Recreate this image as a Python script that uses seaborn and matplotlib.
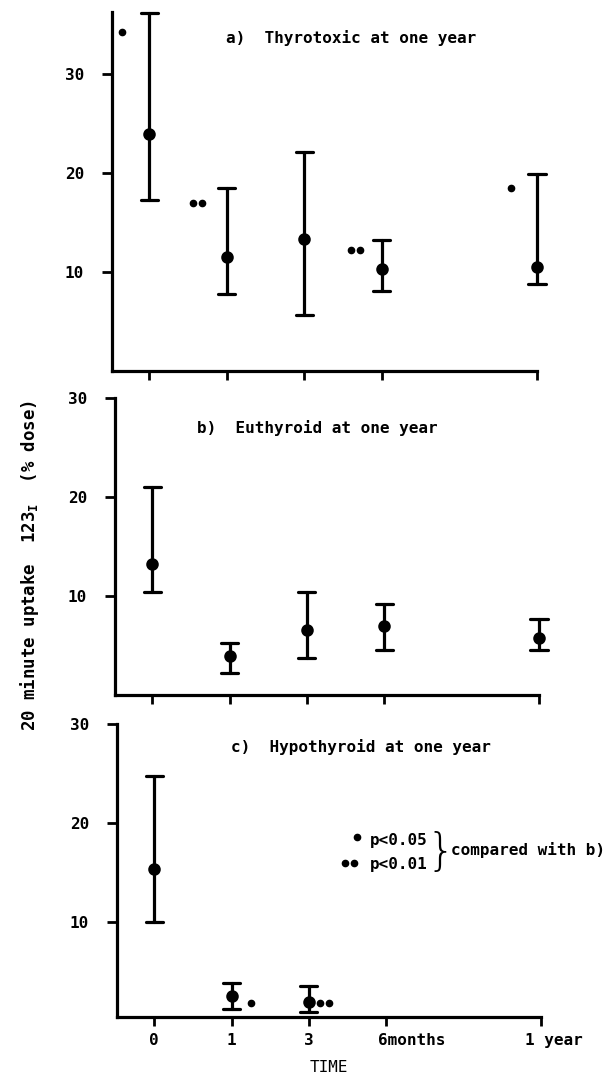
import matplotlib.pyplot as plt
import matplotlib.transforms as mtransforms
import pandas as pd
import seaborn as sns

# time axis: 0, 1, 3 months, 6 months, 1 year (1 year sits further out)
times = [0, 1, 2, 3, 5]
time_labels = ["0", "1", "3", "6months", "1 year"]

thyro_mean = [24.0, 11.5, 13.3, 10.3, 10.5]
thyro_low = [17.3, 7.8, 5.7, 8.1, 8.8]
thyro_high = [36.2, 18.5, 22.1, 13.2, 19.9]

euthy_mean = [13.2, 3.9, 6.6, 7.0, 5.8]
euthy_low = [10.4, 2.2, 3.7, 4.5, 4.5]
euthy_high = [21.0, 5.3, 10.4, 9.2, 7.7]

hypo_times = [0, 1, 2]
hypo_mean = [15.4, 2.5, 1.9]
hypo_low = [10.0, 1.2, 0.9]
hypo_high = [24.7, 3.8, 3.5]

# significance dots vs b): one dot p<0.05, two dots p<0.01
thyro_sig_x = [-0.35, 0.56, 0.68, 2.60, 2.72, 4.66]
thyro_sig_y = [34.3, 17.0, 17.0, 12.2, 12.2, 18.5]
hypo_sig_x = [1.25, 2.14, 2.26]
hypo_sig_y = [1.8, 1.8, 1.8]


def long_frame(x, low, mean, high):
    rows = []
    for t, lo, m, hi in zip(x, low, mean, high):
        for v in (lo, m, hi):
            rows.append({"time": t, "uptake": v})
    return pd.DataFrame(rows)


def px_axes(fig, left, right, top, bottom):
    W, H = 608, 1080
    return fig.add_axes([left / W, 1 - bottom / H, (right - left) / W, (bottom - top) / H])


def draw_panel(ax, df, title, title_pos, ylim, sig_x, sig_y):
    sns.pointplot(
        data=df, x="time", y="uptake", estimator="median", errorbar=("pi", 100),
        native_scale=True, color="black", marker="o", markersize=7,
        linestyle="none", capsize=0.22, err_kws={"linewidth": 2.3}, ax=ax,
    )
    if sig_x:
        ax.plot(sig_x, sig_y, "o", color="black", markersize=4.5, linestyle="none")
    for art in ax.lines + ax.collections:
        art.set_clip_on(False)
    ax.set_xlim(-0.48, 5.0)
    ax.set_ylim(*ylim)
    ax.set_xticks(times)
    ax.set_yticks([10, 20, 30])
    ax.set_xlabel("")
    ax.set_ylabel("")
    ax.text(title_pos[0], title_pos[1], title, transform=ax.transAxes,
            ha="left", va="center", fontsize=11.5)
    sns.despine(ax=ax)
    for side in ("left", "bottom"):
        ax.spines[side].set_linewidth(2.3)
    ax.tick_params(axis="y", length=7, width=2, pad=13, labelsize=11.5)
    ax.tick_params(axis="x", length=6.5, width=2, labelsize=11.5)


def main():
    sns.set_style("ticks")
    plt.rcParams["font.family"] = ["DejaVu Sans Mono", "DejaVu Sans"]
    plt.rcParams["font.weight"] = "bold"
    plt.rcParams["mathtext.default"] = "regular"
    for key in ("text.color", "axes.labelcolor", "xtick.color", "ytick.color", "axes.edgecolor"):
        plt.rcParams[key] = "black"

    fig = plt.figure(figsize=(6.08, 10.8), dpi=100)
    W, H = 608, 1080

    ax_a = px_axes(fig, 112, 537, 12, 371)
    draw_panel(ax_a, long_frame(times, thyro_low, thyro_mean, thyro_high),
               "a)  Thyrotoxic at one year", (0.268, 0.928), (0, 36.3),
               thyro_sig_x, thyro_sig_y)
    ax_a.set_xticklabels([])

    ax_b = px_axes(fig, 115, 539, 398, 695)
    draw_panel(ax_b, long_frame(times, euthy_low, euthy_mean, euthy_high),
               "b)  Euthyroid at one year", (0.193, 0.899), (0, 30), [], [])
    ax_b.set_xticklabels([])

    ax_c = px_axes(fig, 117, 541, 724, 1017)
    draw_panel(ax_c, long_frame(hypo_times, hypo_low, hypo_mean, hypo_high),
               "c)  Hypothyroid at one year", (0.269, 0.922), (0.4, 30),
               hypo_sig_x, hypo_sig_y)
    ax_c.set_xticklabels(time_labels)
    ax_c.tick_params(axis="x", pad=5)
    shifts = {"6months": -6.0, "1 year": -11.5}
    for lab in ax_c.get_xticklabels():
        if lab.get_text() in shifts:
            lab.set_ha("left")
            lab.set_transform(lab.get_transform() + mtransforms.ScaledTranslation(
                shifts[lab.get_text()] / 72, 0, fig.dpi_scale_trans))
    ax_c.set_xlabel("TIME", fontsize=11.5, labelpad=9)

    # significance key (figure pixel positions)
    fig.lines.append(plt.Line2D([357 / W, 345 / W, 354 / W],
                                [1 - 837 / H, 1 - 863 / H, 1 - 863 / H],
                                transform=fig.transFigure, marker="o", markersize=4.5,
                                color="black", linestyle="none"))
    fig.text(370 / W, 1 - 840 / H, "p<0.05", ha="left", va="center", fontsize=11.5)
    fig.text(370 / W, 1 - 864 / H, "p<0.01", ha="left", va="center", fontsize=11.5)
    fig.text(441 / W, 1 - 852 / H, "}", ha="center", va="center", fontsize=32,
             family="DejaVu Sans", fontweight="light")
    fig.text(451 / W, 1 - 850 / H, "compared with b)", ha="left", va="center", fontsize=11.5)

    fig.text(30 / W, 1 - 565 / H, "20 minute uptake  123$_\\mathregular{I}$  (% dose)",
             rotation=90, ha="center", va="center", fontsize=12.5)

    fig.savefig("out.png", dpi=100)


if __name__ == "__main__":
    main()
